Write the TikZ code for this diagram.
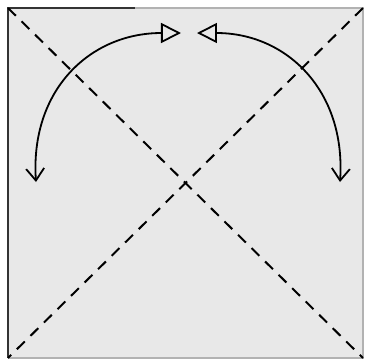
\documentclass[tikz,border=0pt]{standalone}
\usetikzlibrary{arrows.meta}
\begin{document}
\begin{tikzpicture}[x=0.5pt,y=-0.5pt]
    \useasboundingbox (0,0) rectangle (366,361);
    \coordinate (nw) at (8,8);
    \coordinate (ne) at (363,8);
    \coordinate (sw) at (8,358);
    \coordinate (se) at (363,358);
    \fill[gray!18] (nw) rectangle (se);
    \draw[gray!60, line width=1pt] (nw) -- (ne) -- (se) -- (sw);
    \draw[black!80, line width=1.2pt] (sw) -- (nw) -- (135,8);
    \draw[dash pattern=on 5.5pt off 4pt, line width=1pt] (nw) -- (se);
    \draw[dash pattern=on 5.5pt off 4pt, line width=1pt] (ne) -- (sw);
    \coordinate (ltip) at (181,33);
    \coordinate (rtip) at (197,33);
    \coordinate (ldown) at (36,182);
    \coordinate (rdown) at (340,182);
    \draw[line width=0.9pt, {Straight Barb[length=6pt,width=9pt]}-{Triangle[open,length=10pt,width=10pt]}]
        (ldown) .. controls (30,90) and (90,33) .. (ltip);
    \draw[line width=0.9pt, {Straight Barb[length=6pt,width=9pt]}-{Triangle[open,length=10pt,width=10pt]}]
        (rdown) .. controls (346,90) and (286,33) .. (rtip);
\end{tikzpicture}
\end{document}
